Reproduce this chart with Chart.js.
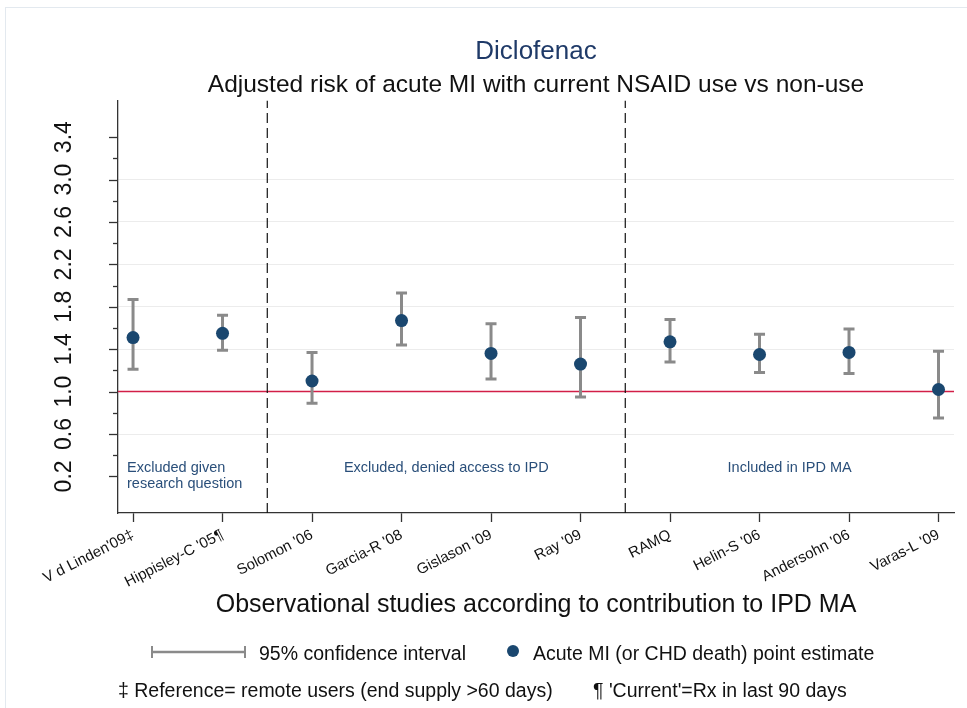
<!DOCTYPE html>
<html>
<head>
<meta charset="utf-8">
<script src="https://cdn.jsdelivr.net/npm/chart.js@4.4.0/dist/chart.umd.min.js"></script>
<style>
  body { margin: 0; background: #fff; font-family: "Liberation Sans", Arial, sans-serif; }
  #wrap { position: relative; width: 967px; height: 708px; overflow: hidden; }
  #chart { position: absolute; left: 0; top: 0; }
  .frame { position: absolute; left: 5px; top: 7px; width: 1000px; height: 800px;
           border-left: 1px solid #e3e9ef; border-top: 1px solid #e3e9ef; }
  .lg { position: absolute; font-size: 19.5px; color: #111; white-space: nowrap; line-height: 24px; }
  .dot { position: absolute; width: 12px; height: 12px; border-radius: 50%; background: #1a476f; }
</style>
</head>
<body>
<div id="wrap">
  <div class="frame"></div>
  <canvas id="chart" width="967" height="708"></canvas>
  <svg style="position:absolute;left:150px;top:645px" width="98" height="14">
    <line x1="2" y1="7" x2="95" y2="7" stroke="#8a8a8a" stroke-width="2.5"/>
    <line x1="2" y1="1" x2="2" y2="13" stroke="#8a8a8a" stroke-width="2"/>
    <line x1="95" y1="1" x2="95" y2="13" stroke="#8a8a8a" stroke-width="2"/>
  </svg>
  <div class="lg" id="lgCi" style="left:259px;top:641px"></div>
  <div class="dot" style="left:507px;top:645px"></div>
  <div class="lg" id="lgPt" style="left:533px;top:641px"></div>
  <div class="lg" id="fn1" style="left:118px;top:678px"></div>
  <div class="lg" id="fn2" style="left:593px;top:678px"></div>
</div>
<script>
// studies on the x axis, in plotting order
const studies = ["V d Linden'09‡", "Hippisley-C '05¶", "Solomon '06", "Garcia-R '08", "Gislason '09",
                 "Ray '09", "RAMQ", "Helin-S '06", "Andersohn '06", "Varas-L '09"];
// adjusted RR and 95% CI
const estimate = [1.51, 1.55, 1.10, 1.67, 1.36, 1.26, 1.47, 1.35, 1.37, 1.02];
const ciLow    = [1.21, 1.39, 0.89, 1.44, 1.12, 0.95, 1.28, 1.18, 1.17, 0.75];
const ciHigh   = [1.87, 1.72, 1.37, 1.93, 1.64, 1.70, 1.68, 1.54, 1.59, 1.38];

const yTicks = [0.2, 0.6, 1.0, 1.4, 1.8, 2.2, 2.6, 3.0, 3.4];
const yMinorTicks = [0.4, 0.8, 1.2, 1.6, 2.0, 2.4, 2.8, 3.2];
const referenceValue = 1.0;
const groupBreaks = [1.5, 5.5];
const groupLabels = [["Excluded given", "research question"], ["Excluded, denied access to IPD"], ["Included in IPD MA"]];

const legendLabels = ["95% confidence interval", "Acute MI (or CHD death) point estimate"];
const footnotes = ["‡ Reference= remote users (end supply >60 days)", "¶ 'Current'=Rx in last 90 days"];

const xMin = -0.168, xMax = 9.173;
const yMin = -0.145, yMax = 3.745;

document.getElementById('lgCi').textContent = legendLabels[0];
document.getElementById('lgPt').textContent = legendLabels[1];
document.getElementById('fn1').textContent = footnotes[0];
document.getElementById('fn2').textContent = footnotes[1];

Chart.defaults.font.family = '"Liberation Sans", Arial, sans-serif';
Chart.defaults.color = '#111';

// error bar stems: one segment per study, broken with nulls
const stems = [];
studies.forEach((s, i) => {
    stems.push({ x: i, y: ciLow[i] }, { x: i, y: ciHigh[i] }, { x: i, y: null });
});
const caps = [];
studies.forEach((s, i) => {
    caps.push({ x: i, y: ciLow[i] }, { x: i, y: ciHigh[i] });
});
const points = estimate.map((v, i) => ({ x: i, y: v }));

const datasets = [
    { type: 'scatter', data: points, pointRadius: 6.5, backgroundColor: '#1a476f', borderWidth: 0, order: 0 },
    { type: 'scatter', data: caps, pointStyle: 'line', pointRadius: 5.5, borderColor: '#8a8a8a', borderWidth: 3, order: 1 },
    { type: 'line', data: stems, borderColor: '#8a8a8a', borderWidth: 3, pointRadius: 0, spanGaps: false, order: 2 },
    { type: 'line', data: [{ x: xMin, y: referenceValue }, { x: xMax, y: referenceValue }],
      borderColor: '#d21f47', borderWidth: 1.5, pointRadius: 0, order: 4 }
];
groupBreaks.forEach(b => {
    datasets.push({ type: 'line', data: [{ x: b, y: yMin }, { x: b, y: yMax }], borderColor: '#111',
                    borderWidth: 1.2, borderDash: [10, 5], pointRadius: 0, order: 3 });
});

// minor/major y ticks and the group captions
const extras = {
    id: 'extras',
    afterDatasetsDraw(chart) {
        const { ctx, chartArea, scales: { x, y } } = chart;
        ctx.save();
        ctx.strokeStyle = '#333';
        ctx.lineWidth = 1.3;
        yTicks.concat(yMinorTicks).forEach(v => {
            const py = Math.round(y.getPixelForValue(v)) + 0.5;
            const len = yTicks.includes(v) ? 9 : 5;
            ctx.beginPath();
            ctx.moveTo(chartArea.left - len, py);
            ctx.lineTo(chartArea.left, py);
            ctx.stroke();
        });
        ctx.fillStyle = '#2a4f7a';
        ctx.font = '14.5px "Liberation Sans", Arial, sans-serif';
        ctx.textBaseline = 'middle';
        const edges = [xMin].concat(groupBreaks, [xMax]);
        groupLabels.forEach((lines, g) => {
            lines.forEach((t, k) => {
                const py = y.getPixelForValue(0.28) + k * 16.5;
                if (g === 0) {
                    ctx.textAlign = 'left';
                    ctx.fillText(t, chartArea.left + 9, py);
                } else {
                    ctx.textAlign = 'center';
                    ctx.fillText(t, (x.getPixelForValue(edges[g]) + x.getPixelForValue(edges[g + 1])) / 2, py);
                }
            });
        });
        ctx.restore();
    }
};

const chart = new Chart(document.getElementById('chart'), {
    type: 'scatter',
    data: { datasets: datasets },
    options: {
        responsive: false,
        animation: false,
        events: [],
        layout: { padding: { left: 0, right: 13, top: 0, bottom: 88 } },
        plugins: {
            legend: { display: false },
            tooltip: { enabled: false },
            title: { display: true, text: 'Diclofenac', color: '#1f3a68', fullSize: false,
                     font: { size: 26, weight: 'normal' }, padding: { top: 36, bottom: 3 } },
            subtitle: { display: true, text: 'Adjusted risk of acute MI with current NSAID use vs non-use',
                        color: '#111', fullSize: false, font: { size: 24.5, weight: 'normal' },
                        padding: { top: 0, bottom: 1 } }
        },
        scales: {
            x: {
                type: 'linear', min: xMin, max: xMax,
                afterBuildTicks: s => { s.ticks = studies.map((n, i) => ({ value: i })); },
                afterFit: s => { s.height = 107; },
                ticks: { callback: v => studies[v], minRotation: 27, maxRotation: 27, autoSkip: false,
                         padding: 4, color: '#111', font: { size: 15 } },
                grid: { drawOnChartArea: false, drawTicks: true, tickLength: 9, tickColor: '#333', tickWidth: 1.3 },
                border: { display: true, color: '#333', width: 1.3 },
                title: { display: true, text: 'Observational studies according to contribution to IPD MA',
                         color: '#111', font: { size: 25 }, padding: { top: 0, bottom: 0 } }
            },
            y: {
                type: 'linear', min: yMin, max: yMax,
                afterBuildTicks: s => { s.ticks = yTicks.map(v => ({ value: v })); },
                afterFit: s => { s.width = 118; },
                ticks: { callback: v => v.toFixed(1), minRotation: 90, maxRotation: 90, autoSkip: false,
                         crossAlign: 'center', padding: 37, color: '#111', font: { size: 23 } },
                grid: { drawTicks: false, lineWidth: 1,
                        color: c => (c.tick && c.tick.value > 0.3 && c.tick.value < 3.3) ? '#ececec' : 'rgba(0,0,0,0)' },
                border: { display: true, color: '#333', width: 1.3 }
            }
        }
    },
    plugins: [extras]
});
</script>
</body>
</html>
